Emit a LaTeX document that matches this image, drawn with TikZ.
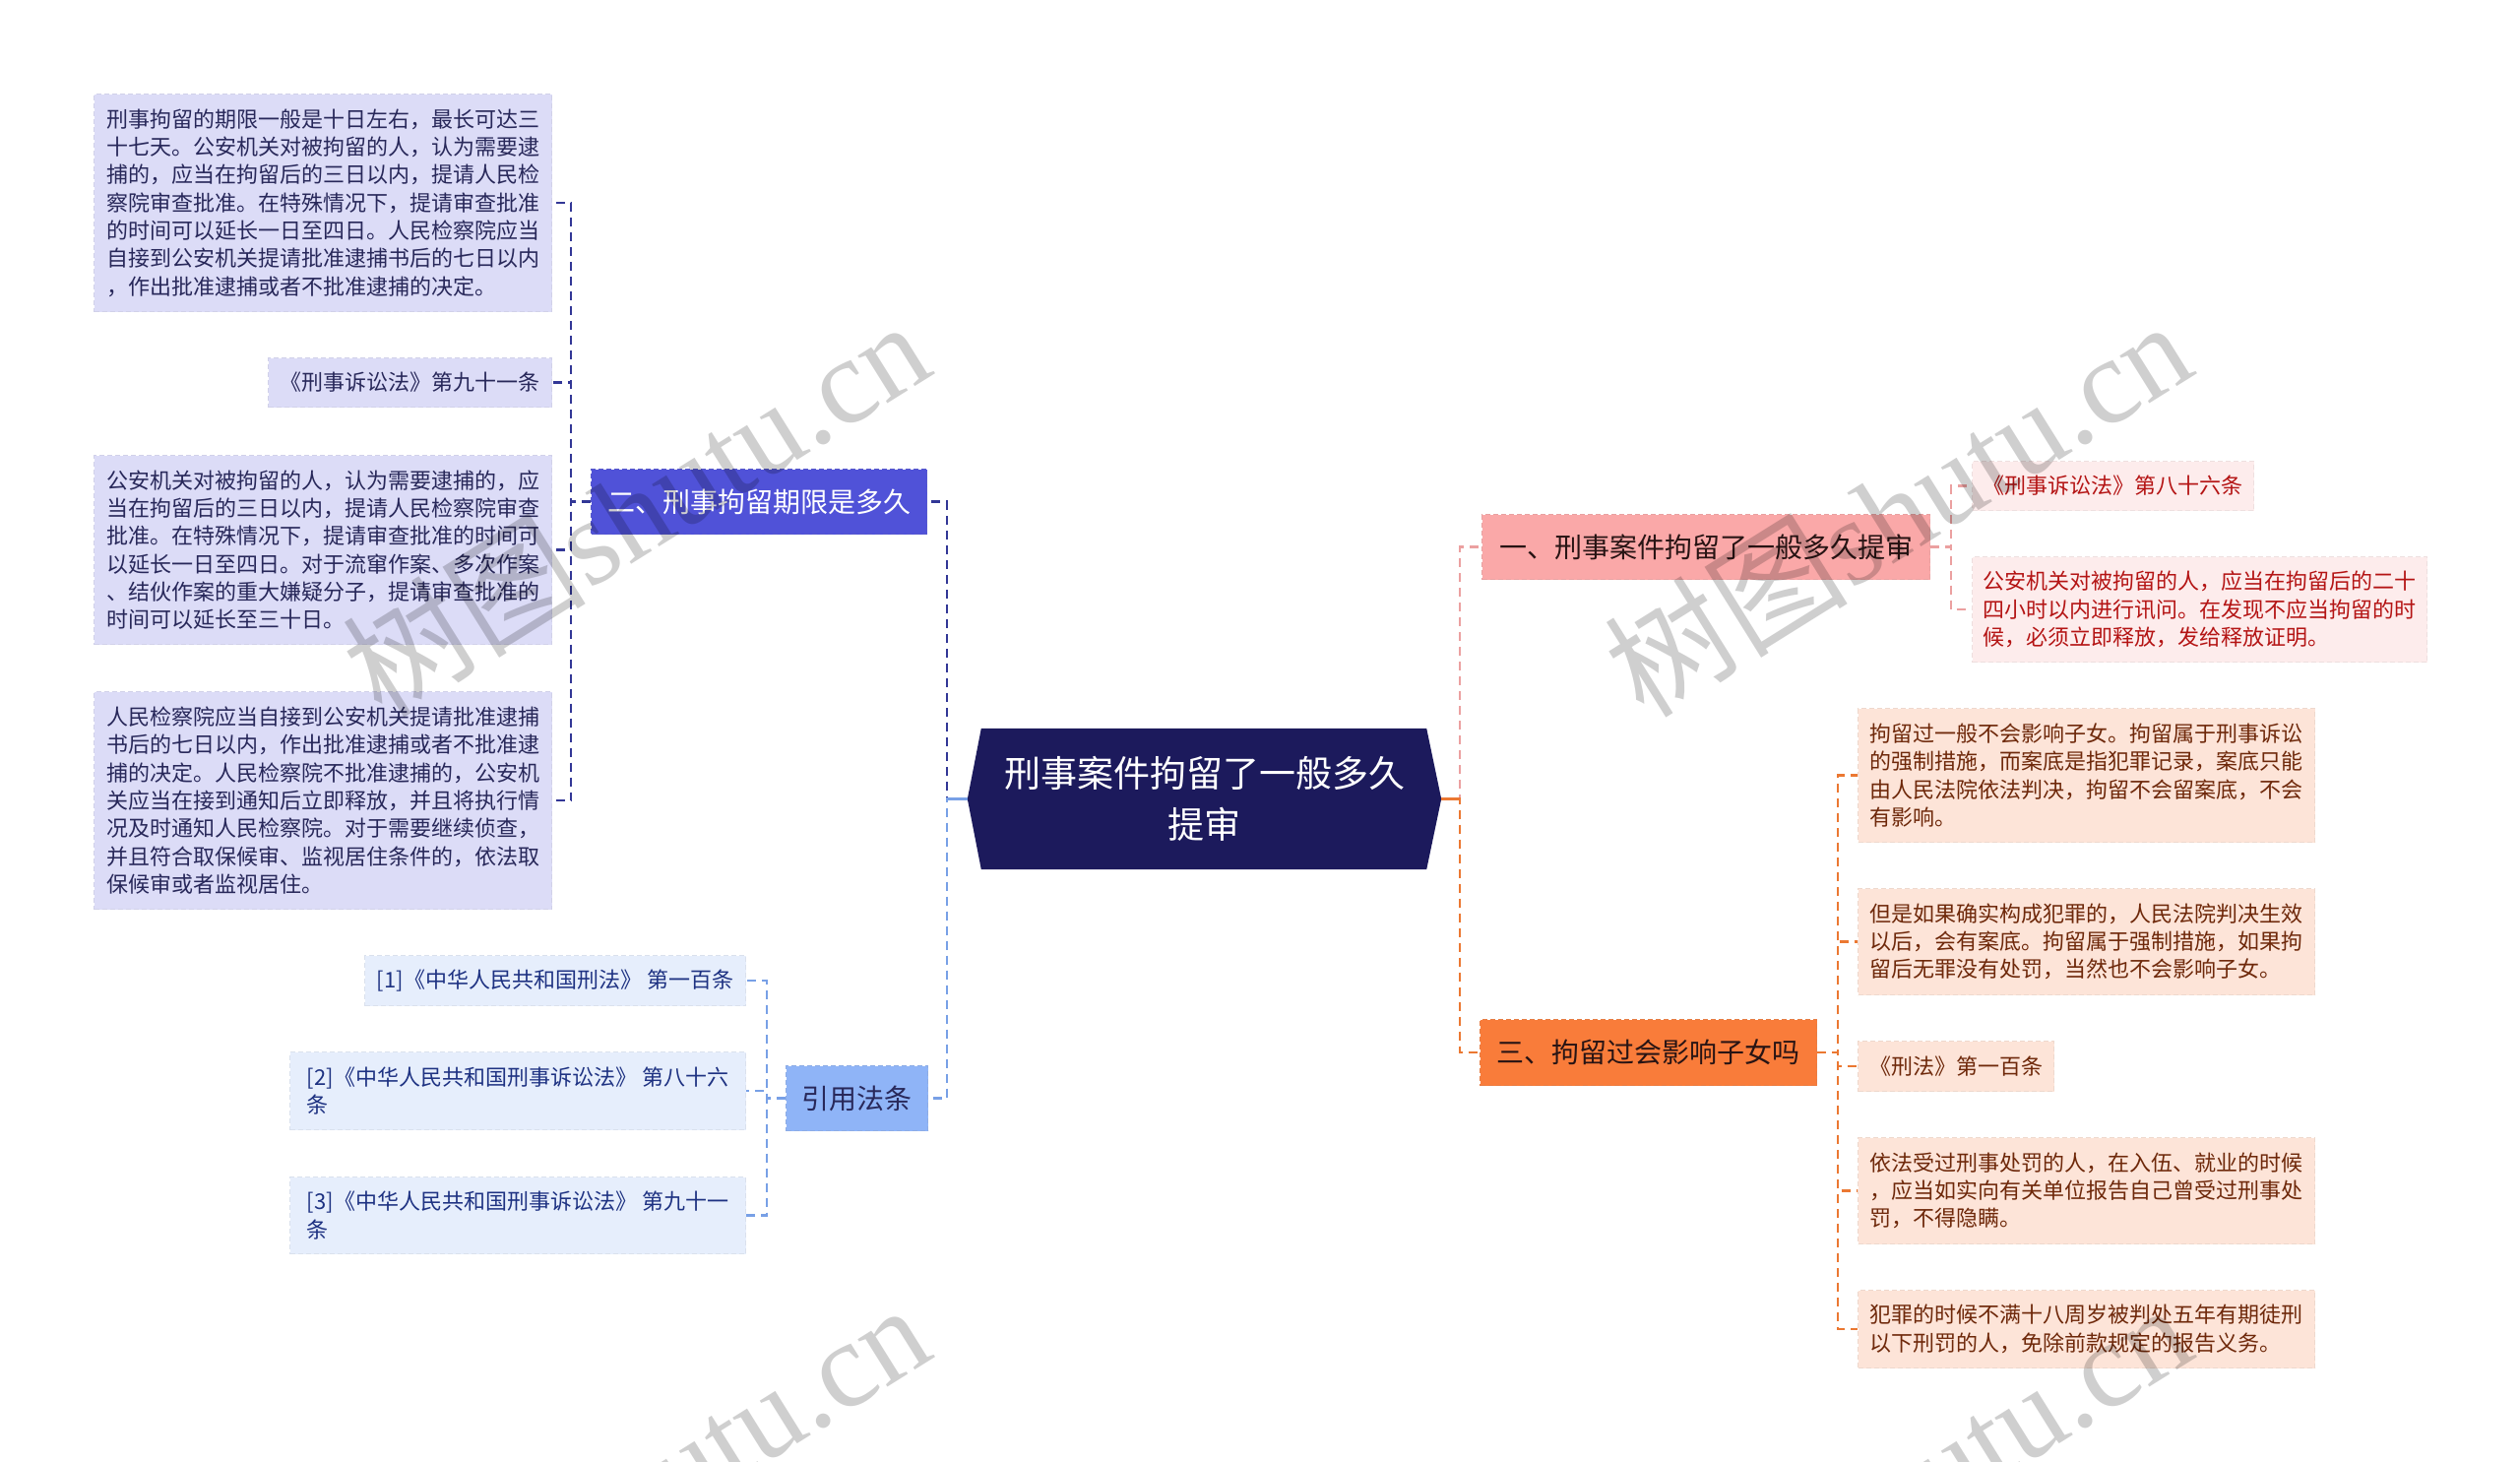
\documentclass[tikz,border=0pt]{standalone}
\usepackage{fontspec}
\setmainfont{Noto Sans CJK SC}
\newfontfamily\wmserif{Liberation Serif}
\usetikzlibrary{backgrounds}
\definecolor{rootfill}{RGB}{28,26,92}
\definecolor{lfill}{RGB}{220,220,247}
\definecolor{ltext}{RGB}{40,40,90}
\definecolor{lnode}{RGB}{80,82,216}
\definecolor{lline}{RGB}{50,55,150}
\definecolor{rfill}{RGB}{230,238,252}
\definecolor{rtext}{RGB}{30,50,130}
\definecolor{rnode}{RGB}{143,180,247}
\definecolor{rline}{RGB}{120,160,230}
\definecolor{pnode}{RGB}{250,168,168}
\definecolor{pfill}{RGB}{253,236,236}
\definecolor{ptext}{RGB}{180,20,20}
\definecolor{pline}{RGB}{235,160,160}
\definecolor{onode}{RGB}{249,124,58}
\definecolor{ofill}{RGB}{253,228,216}
\definecolor{otext}{RGB}{110,40,10}
\definecolor{oline}{RGB}{235,120,50}
\definecolor{darktext}{RGB}{40,20,20}
\tikzset{
  box/.style={anchor=north west, align=left, inner xsep=10pt, inner ysep=0pt,
    dashed, dash pattern=on 5pt off 3pt, line width=1pt},
  leaftext/.style={font=\fontsize{22}{28.3}\selectfont},
  headtext/.style={font=\fontsize{28}{34}\selectfont},
  lleaf/.style={box, leaftext, fill=lfill, draw=lfill!88!gray, text=ltext},
  rleaf/.style={box, leaftext, fill=rfill, draw=rfill!88!gray, text=rtext},
  pleaf/.style={box, leaftext, fill=pfill, draw=pfill!88!gray, text=ptext},
  oleaf/.style={box, leaftext, fill=ofill, draw=ofill!88!gray, text=otext},
  lhead/.style={box, headtext, fill=lnode, draw=lnode!85!gray, text=white},
  rhead/.style={box, headtext, fill=rnode, draw=rnode!85!gray, text=ltext},
  phead/.style={box, headtext, fill=pnode, draw=pnode!85!gray, text=darktext},
  ohead/.style={box, headtext, fill=onode, draw=onode!85!gray, text=darktext},
  conn/.style={line width=2.2pt, dashed, dash pattern=on 9pt off 6pt},
  lconn/.style={conn, draw=lline},
  rconn/.style={conn, draw=rline},
  pconn/.style={conn, draw=pline},
  oconn/.style={conn, draw=oline},
  wm/.style={rotate=32, text=black, opacity=0.19, font=\fontsize{124}{124}\selectfont},
}
\begin{document}
\begin{tikzpicture}[x=1pt,y=-1pt]
\useasboundingbox (0,0) rectangle (2560,1484);
\clip (0,0) rectangle (2560,1484);

% root
\node[minimum width=481pt, minimum height=143pt, inner sep=0pt, align=center, text=white,
      font=\fontsize{37}{52}\selectfont] (root) at (1223.5,811.5) {刑事案件拘留了一般多久\\提审};

% left group
\node[lhead, minimum width=341pt, minimum height=66pt] (n2) at (600,476) {二、刑事拘留期限是多久};
\node[lleaf, minimum width=465pt, minimum height=221pt] (L1) at (95,95) {刑事拘留的期限一般是十日左右，最长可达三\\十七天。公安机关对被拘留的人，认为需要逮\\捕的，应当在拘留后的三日以内，提请人民检\\察院审查批准。在特殊情况下，提请审查批准\\的时间可以延长一日至四日。人民检察院应当\\自接到公安机关提请批准逮捕书后的七日以内\\，作出批准逮捕或者不批准逮捕的决定。};
\node[lleaf, minimum width=288pt, minimum height=50pt] (L2) at (272,363) {《刑事诉讼法》第九十一条};
\node[lleaf, minimum width=465pt, minimum height=192pt] (L3) at (95,462) {公安机关对被拘留的人，认为需要逮捕的，应\\当在拘留后的三日以内，提请人民检察院审查\\批准。在特殊情况下，提请审查批准的时间可\\以延长一日至四日。对于流窜作案、多次作案\\、结伙作案的重大嫌疑分子，提请审查批准的\\时间可以延长至三十日。};
\node[lleaf, minimum width=465pt, minimum height=221pt] (L4) at (95,702) {人民检察院应当自接到公安机关提请批准逮捕\\书后的七日以内，作出批准逮捕或者不批准逮\\捕的决定。人民检察院不批准逮捕的，公安机\\关应当在接到通知后立即释放，并且将执行情\\况及时通知人民检察院。对于需要继续侦查，\\并且符合取保候审、监视居住条件的，依法取\\保候审或者监视居住。};

% references
\node[rhead, minimum width=144pt, minimum height=66pt, align=center] (n4) at (798,1082) {引用法条};
\node[rleaf, minimum width=387pt, minimum height=51pt] (R1) at (370,970) {[1]《中华人民共和国刑法》 第一百条};
\node[rleaf, minimum width=463pt, minimum height=79pt] (R2) at (294,1068) {[2]《中华人民共和国刑事诉讼法》 第八十六\\条};
\node[rleaf, minimum width=463pt, minimum height=78pt] (R3) at (294,1195) {[3]《中华人民共和国刑事诉讼法》 第九十一\\条};

% right pink group
\node[phead, minimum width=455pt, minimum height=66pt] (n1) at (1505,522) {一、刑事案件拘留了一般多久提审};
\node[pleaf, minimum width=286pt, minimum height=50pt] (T1) at (2003,468) {《刑事诉讼法》第八十六条};
\node[pleaf, minimum width=462pt, minimum height=107pt] (T2) at (2003,565) {公安机关对被拘留的人，应当在拘留后的二十\\四小时以内进行讯问。在发现不应当拘留的时\\候，必须立即释放，发给释放证明。};

% right orange group
\node[ohead, minimum width=342pt, minimum height=67pt] (n3) at (1503,1035) {三、拘留过会影响子女吗};
\node[oleaf, minimum width=464pt, minimum height=136pt] (O1) at (1887,719) {拘留过一般不会影响子女。拘留属于刑事诉讼\\的强制措施，而案底是指犯罪记录，案底只能\\由人民法院依法判决，拘留不会留案底，不会\\有影响。};
\node[oleaf, minimum width=464pt, minimum height=108pt] (O2) at (1887,902) {但是如果确实构成犯罪的，人民法院判决生效\\以后，会有案底。拘留属于强制措施，如果拘\\留后无罪没有处罚，当然也不会影响子女。};
\node[oleaf, minimum width=199pt, minimum height=51pt] (O3) at (1887,1057) {《刑法》第一百条};
\node[oleaf, minimum width=464pt, minimum height=108pt] (O4) at (1887,1155) {依法受过刑事处罚的人，在入伍、就业的时候\\，应当如实向有关单位报告自己曾受过刑事处\\罚，不得隐瞒。};
\node[oleaf, minimum width=464pt, minimum height=79pt] (O5) at (1887,1310) {犯罪的时候不满十八周岁被判处五年有期徒刑\\以下刑罚的人，免除前款规定的报告义务。};

\begin{scope}[on background layer]
\fill[white] (0,0) rectangle (2560,1484);
\fill[rootfill] ([xshift=14pt]root.north west) -- ([xshift=-15pt]root.north east) -- (root.east)
  -- ([xshift=-15pt]root.south east) -- ([xshift=14pt]root.south west) -- (root.west) -- cycle;
% connectors
\foreach \t in {L1,L2,L3,L4} \draw[lconn] (n2.west) -- ++(-20,0) |- (\t.east);
\draw[lconn] (root.west) -- ++(-21,0) |- (n2.east);
\draw[rconn] (root.west) -- ++(-21,0) |- (n4.east);
\draw[line width=2.2pt, rline] (root.west) -- ++(-21,0);
\foreach \t in {R1,R2,R3} \draw[rconn] (n4.west) -- ++(-19,0) |- (\t.east);
\draw[pconn] (root.east) -- ++(19,0) |- (n1.west);
\draw[oconn] (root.east) -- ++(19,0) |- (n3.west);
\draw[line width=2.2pt, oline] (root.east) -- ++(19,0);
\foreach \t in {T1,T2} \draw[pconn] (n1.east) -- ++(21,0) |- (\t.west);
\foreach \t in {O1,O2,O3,O4,O5} \draw[oconn] (n3.east) -- ++(21,0) |- (\t.west);
\end{scope}

% watermarks
\node[wm] (w1) at (645,515) {树图{\wmserif shutu.cn}};
\node[wm] (w2) at (1927,515) {树图{\wmserif shutu.cn}};
\node[wm] (w3) at (645,1514) {树图{\wmserif shutu.cn}};
\node[wm] (w4) at (1927,1514) {树图{\wmserif shutu.cn}};
\end{tikzpicture}
\end{document}
